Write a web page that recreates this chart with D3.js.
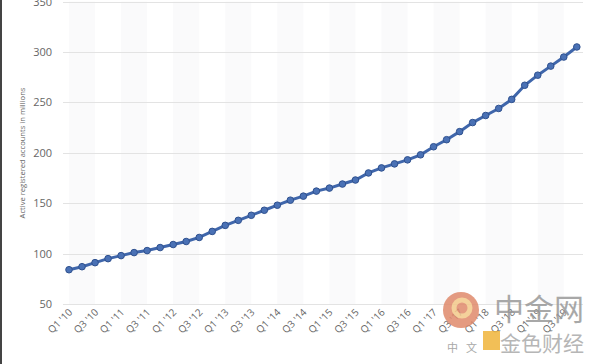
<!DOCTYPE html>
<html>
<head>
    <meta charset="utf-8">
    <title>Active registered accounts</title>
    <script src="https://d3js.org/d3.v7.min.js"></script>
    <style>
        body { margin: 0; background: #fff; }
        .axis-label { font-family: "Open Sans", sans-serif; fill: #666; }
    </style>
</head>
<body>
<div id="chart"></div>
<script>
    // quarters Q1 '10 .. Q4 '19
    const quarters = [];
    const years = ["10","11","12","13","14","15","16","17","18","19"];
    years.forEach(y => ["Q1","Q2","Q3","Q4"].forEach(q => quarters.push(q + " '" + y)));

    // active registered accounts in millions
    const accounts = [84, 87, 91, 95, 98, 101, 103, 106, 109, 112,
                      116, 122, 128, 133, 138, 143, 148, 153, 157, 162,
                      165, 169, 173, 180, 185, 189, 193, 198, 206, 213,
                      221, 230, 237, 244, 253, 267, 277, 286, 295, 305];

    const yTicks = [50, 100, 150, 200, 250, 300, 350];

    const W = 600, H = 364;
    const svg = d3.select("#chart").append("svg")
        .attr("width", W).attr("height", H);

    const x = d3.scalePoint().domain(quarters).range([69, 576.8]);
    const y = d3.scaleLinear().domain([50, 350]).range([304, 1.6]);
    const step = x.step();

    // very faint alternating stripes
    for (let i = 0; i < quarters.length; i += 4) {
        svg.append("rect")
            .attr("x", x(quarters[i]))
            .attr("y", y(350))
            .attr("width", step * 2)
            .attr("height", y(50) - y(350))
            .attr("fill", "#fafafb");
    }

    // grid lines
    svg.append("g").selectAll("line")
        .data(yTicks).enter().append("line")
        .attr("x1", 63).attr("x2", 583)
        .attr("y1", d => Math.round(y(d)) + 0.5)
        .attr("y2", d => Math.round(y(d)) + 0.5)
        .attr("stroke", "#e3e3e3").attr("stroke-width", 1);

    // y axis labels
    svg.append("g").selectAll("text")
        .data(yTicks).enter().append("text")
        .attr("class", "axis-label")
        .attr("x", 52).attr("y", d => y(d) + 4)
        .attr("text-anchor", "end")
        .attr("font-size", 11)
        .text(d => d);

    svg.append("text")
        .attr("class", "axis-label")
        .attr("transform", "translate(25,153) rotate(-90)")
        .attr("text-anchor", "middle")
        .attr("font-size", 7.6)
        .text("Active registered accounts in millions");

    // x axis labels, every other quarter
    svg.append("g").selectAll("text")
        .data(quarters.filter((d, i) => i % 2 === 0)).enter().append("text")
        .attr("class", "axis-label")
        .attr("font-size", 10)
        .attr("text-anchor", "end")
        .attr("transform", d => `translate(${x(d) + 4},${313}) rotate(-45)`)
        .text(d => d);

    // line + markers
    const line = d3.line()
        .x((d, i) => x(quarters[i]))
        .y(d => y(d));

    svg.append("path")
        .datum(accounts)
        .attr("d", line)
        .attr("fill", "none")
        .attr("stroke", "#3f66ab")
        .attr("stroke-width", 3);

    svg.append("g").selectAll("circle")
        .data(accounts).enter().append("circle")
        .attr("cx", (d, i) => x(quarters[i]))
        .attr("cy", d => y(d))
        .attr("r", 3.3)
        .attr("fill", "#4a71b5")
        .attr("stroke", "#2f518f")
        .attr("stroke-width", 1);

    // left border of the screenshot
    svg.append("line")
        .attr("x1", 1).attr("x2", 1).attr("y1", 0).attr("y2", H)
        .attr("stroke", "#444").attr("stroke-width", 2);

    // watermark
    const wm = svg.append("g").attr("opacity", 0.85);
    wm.append("circle").attr("cx", 461).attr("cy", 310).attr("r", 18).attr("fill", "#e08a6c");
    wm.append("circle").attr("cx", 462).attr("cy", 308).attr("r", 8).attr("fill", "none")
        .attr("stroke", "#f3c98a").attr("stroke-width", 5);
    wm.append("text").attr("x", 494).attr("y", 320)
        .attr("font-family", "Noto Sans CJK SC").attr("font-size", 30)
        .attr("fill", "#9a9a9a").text("中金网");
    wm.append("text").attr("x", 447).attr("y", 352)
        .attr("font-family", "Noto Sans CJK SC").attr("font-size", 11)
        .attr("letter-spacing", 8)
        .attr("fill", "#999").text("中文");
    wm.append("rect").attr("x", 483).attr("y", 331).attr("width", 17).attr("height", 19)
        .attr("fill", "#f0b43a");
    wm.append("text").attr("x", 500).attr("y", 351)
        .attr("font-family", "Noto Sans CJK SC").attr("font-size", 21)
        .attr("fill", "#aaa").text("金色财经");
</script>
</body>
</html>
